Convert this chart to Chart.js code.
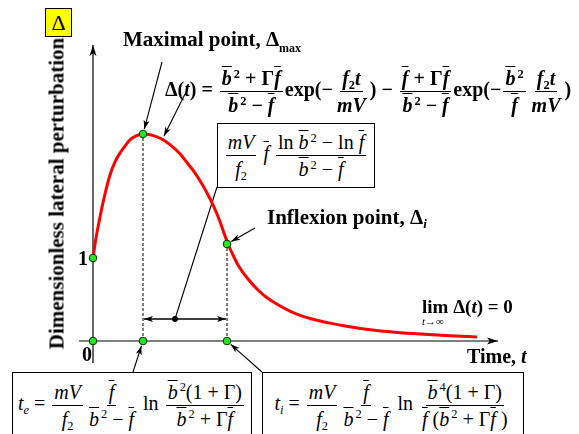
<!DOCTYPE html>
<html><head><meta charset="utf-8">
<script src="https://cdn.jsdelivr.net/npm/chart.js@4.4.1/dist/chart.umd.min.js"></script>
<style>
html,body{margin:0;padding:0;background:#fff;}
#wrap{position:relative;width:579px;height:434px;overflow:hidden;background:#fff;}
#c{position:absolute;left:0;top:0;}
.t{position:absolute;font-family:"Liberation Serif","Times New Roman",Times,serif;white-space:nowrap;line-height:1;color:#000;}
.b{font-weight:bold;}
.frac{display:inline-flex;flex-direction:column;align-items:center;vertical-align:middle;margin:0 2px;}
.frac>span{display:block;padding:1px 2px;line-height:1.2;}
.frac>span:first-child{border-bottom:1.4px solid #000;}
.ob{text-decoration:overline;text-decoration-thickness:1px;}
sup{font-size:0.62em;vertical-align:0.6em;line-height:0;margin-left:2px;}
sub{font-size:0.62em;vertical-align:-0.3em;line-height:0;}
.box{position:absolute;border:1px solid #000;background:#fff;display:flex;align-items:center;justify-content:center;box-sizing:border-box;}
</style></head><body>
<div id="wrap">
<canvas id="c" width="579" height="434"></canvas>

<div class="t" style="left:45px;top:8px;width:27px;height:29px;background:#ffff00;border:1px solid #000;box-sizing:border-box;font-size:22px;text-align:center;line-height:27px;">Δ</div>

<div class="t b" style="left:-113px;top:183px;width:340px;text-align:center;font-size:21px;transform:rotate(-90deg);">Dimensionless lateral perturbation</div>

<div class="t b" style="left:123px;top:29px;font-size:21px;">Maximal point, Δ<sub style="font-size:12px;vertical-align:-0.5em;">max</sub></div>

<div class="t b" style="left:165px;top:65px;font-size:20px;">Δ(<i>t</i>) = <span class="frac"><span><i class="ob">b</i><sup>2</sup> + Γ<i class="ob">f</i></span><span><i class="ob">b</i><sup>2</sup> − <i class="ob">f</i></span></span>exp(−<span class="frac"><span><i>f</i><sub>2</sub><i>t</i></span><span><i>mV</i></span></span>) − <span class="frac"><span><i class="ob">f</i> + Γ<i class="ob">f</i></span><span><i class="ob">b</i><sup>2</sup> − <i class="ob">f</i></span></span>exp(−<span class="frac"><span><i class="ob">b</i><sup>2</sup></span><span><i class="ob">f</i></span></span><span class="frac"><span><i>f</i><sub>2</sub><i>t</i></span><span><i>mV</i></span></span>)</div>

<div class="box" style="left:217px;top:123px;width:158px;height:65px;">
<div class="t" style="position:static;font-size:20px;"><span class="frac"><span><i>mV</i></span><span><i>f</i><sub>2</sub></span></span> <i class="ob">f</i> <span class="frac"><span>ln <i class="ob">b</i><sup>2</sup> − ln <i class="ob">f</i></span><span><i class="ob">b</i><sup>2</sup> − <i class="ob">f</i></span></span></div>
</div>

<div class="t b" style="left:267px;top:207px;font-size:21px;">Inflexion point, Δ<sub style="font-size:13px;"><i>i</i></sub></div>

<div class="t b" style="left:422px;top:297px;font-size:19px;">lim Δ(<i>t</i>) = 0</div>
<div class="t" style="left:422px;top:316px;font-size:11px;"><i>t</i>→∞</div>

<div class="t b" style="left:467px;top:346px;font-size:20px;">Time, <i>t</i></div>

<div class="box" style="left:12px;top:372px;width:240px;height:66px;">
<div class="t" style="position:static;font-size:20px;"><i>t<sub>e</sub></i> = <span class="frac"><span><i>mV</i></span><span><i>f</i><sub>2</sub></span></span><span class="frac"><span><i class="ob">f</i></span><span><i class="ob">b</i><sup>2</sup> − <i class="ob">f</i></span></span> ln <span class="frac"><span><i class="ob">b</i><sup>2</sup>(1 + Γ)</span><span><i class="ob">b</i><sup>2</sup> + Γ<i class="ob">f</i></span></span></div>
</div>

<div class="box" style="left:262px;top:372px;width:262px;height:66px;">
<div class="t" style="position:static;font-size:20px;"><i>t<sub>i</sub></i> = <span class="frac"><span><i>mV</i></span><span><i>f</i><sub>2</sub></span></span><span class="frac"><span><i class="ob">f</i></span><span><i class="ob">b</i><sup>2</sup> − <i class="ob">f</i></span></span> ln <span class="frac"><span><i class="ob">b</i><sup>4</sup>(1 + Γ)</span><span><i class="ob">f</i> (<i class="ob">b</i><sup>2</sup> + Γ<i class="ob">f</i> )</span></span></div>
</div>
</div>

<script>
// ---- data ----
const curveTime  = [0, 0.06, 0.14, 0.24, 0.34, 0.44, 0.54, 0.64, 0.74, 0.86, 1.00, 1.14, 1.28, 1.40, 1.54, 1.74, 1.88, 2.00, 2.14, 2.28, 2.40, 2.52, 2.62, 2.70, 2.80, 2.90, 3.10, 3.30, 3.46, 3.64, 3.98, 4.38, 4.74, 5.04, 5.54, 6.04, 6.54, 7.14, 7.68];
const curveDelta = [1.000, 1.241, 1.494, 1.771, 2.000, 2.157, 2.265, 2.349, 2.422, 2.470, 2.494, 2.485, 2.460, 2.425, 2.365, 2.255, 2.150, 2.058, 1.930, 1.783, 1.639, 1.470, 1.301, 1.169, 1.036, 0.916, 0.747, 0.614, 0.530, 0.458, 0.349, 0.265, 0.215, 0.180, 0.135, 0.105, 0.083, 0.063, 0.048];
const tE = 1.00, deltaMax = 2.494;
const tI = 2.68, deltaI = 1.169;
const markerTime  = [0, 0, tE, tI, tE, tI];
const markerDelta = [1, 0, 0, 0, deltaMax, deltaI];
const spanTime = [tE, tI];
const spanLevel = 0.265;
const pointerTime = 1.64;
const axisTime  = [-0.28, 8.10];
const axisDelta = [-0.265, 3.566];
const tickValues = [0, 1];
const tickLabels = ['0', '1'];

const SERIF = '"Liberation Serif","Times New Roman",Times,serif';

function arrowHead(ctx, x1, y1, x2, y2, len, half) {
  const a = Math.atan2(y2 - y1, x2 - x1);
  ctx.beginPath();
  ctx.moveTo(x2, y2);
  ctx.lineTo(x2 - len * Math.cos(a) + half * Math.sin(a), y2 - len * Math.sin(a) - half * Math.cos(a));
  ctx.lineTo(x2 - (len*0.75) * Math.cos(a), y2 - (len*0.75) * Math.sin(a));
  ctx.lineTo(x2 - len * Math.cos(a) - half * Math.sin(a), y2 - len * Math.sin(a) + half * Math.cos(a));
  ctx.closePath();
  ctx.fill();
}
function arrow(ctx, x1, y1, x2, y2, opts) {
  opts = opts || {};
  ctx.beginPath(); ctx.moveTo(x1, y1); ctx.lineTo(x2, y2); ctx.stroke();
  if (opts.end !== false) arrowHead(ctx, x1, y1, x2, y2, opts.len || 9, opts.half || 3);
  if (opts.start) arrowHead(ctx, x2, y2, x1, y1, opts.len || 9, opts.half || 3);
}
function towards(px, py, tx, ty, gap) {
  const d = Math.hypot(tx - px, ty - py);
  return [px + (tx - px) / d * gap, py + (ty - py) / d * gap];
}

const decor = {
  id: 'decor',
  beforeDatasetsDraw(chart) {
    const ctx = chart.ctx, xs = chart.scales.x, ys = chart.scales.y;
    const X = v => xs.getPixelForValue(v), Y = v => ys.getPixelForValue(v);
    ctx.save();
    ctx.strokeStyle = '#000'; ctx.fillStyle = '#000'; ctx.lineWidth = 1.2;
    // axes
    arrow(ctx, X(axisTime[0]), Y(0), X(axisTime[1]), Y(0), {len: 11, half: 3.5});
    arrow(ctx, X(0), Y(axisDelta[0]), X(0), Y(axisDelta[1]), {len: 11, half: 3.5});
    // tick labels
    ctx.font = 'bold 20px ' + SERIF;
    ctx.textAlign = 'right'; ctx.textBaseline = 'alphabetic';
    ctx.fillText(tickLabels[1], X(0) - 5, Y(tickValues[1]) + 7);
    ctx.textAlign = 'center';
    ctx.fillText(tickLabels[0], X(0) - 6, Y(tickValues[0]) + 20);
    ctx.lineWidth = 1.1;
    // annotation arrows
    let h;
    h = towards(X(tE), Y(deltaMax), 162, 62, 5);
    arrow(ctx, 162, 62, h[0], h[1]);
    arrow(ctx, 185, 94, 164, 136);
    h = towards(X(tI), Y(deltaI), 255, 228, 5);
    arrow(ctx, 255, 228, h[0], h[1]);
    h = towards(X(tE), Y(0), 133, 372, 5);
    arrow(ctx, 133, 372, h[0], h[1]);
    h = towards(X(tI), Y(0), 262, 372, 5);
    arrow(ctx, 262, 372, h[0], h[1]);
    // box pointer line
    ctx.beginPath(); ctx.moveTo(217, 187); ctx.lineTo(X(pointerTime), Y(spanLevel)); ctx.stroke();
    // double arrow between tE and tI
    ctx.lineWidth = 1.4;
    arrow(ctx, X(spanTime[0]) + 1, Y(spanLevel), X(spanTime[1]) - 1, Y(spanLevel), {start: true, len: 9, half: 3});
    ctx.restore();
  }
};

new Chart(document.getElementById('c'), {
  type: 'scatter',
  data: {
    datasets: [
      { data: markerTime.map((t, i) => ({x: t, y: markerDelta[i]})), pointRadius: 3.8, pointBackgroundColor: '#22e822', pointBorderColor: '#063006', pointBorderWidth: 1, showLine: false, order: 0 },
      { data: [{x: pointerTime, y: spanLevel}], pointRadius: 2.6, pointBackgroundColor: '#000', pointBorderColor: '#000', showLine: false, order: 0 },
      { data: curveTime.map((t, i) => ({x: t, y: curveDelta[i]})), showLine: true, borderColor: '#ff0000', borderWidth: 3, pointRadius: 0, cubicInterpolationMode: 'monotone', order: 1 },
      { data: [{x: tE, y: 0}, {x: tE, y: deltaMax}], showLine: true, borderColor: '#000', borderWidth: 1, borderDash: [3, 2], pointRadius: 0, order: 2 },
      { data: [{x: tI, y: 0}, {x: tI, y: deltaI}], showLine: true, borderColor: '#000', borderWidth: 1, borderDash: [3, 2], pointRadius: 0, order: 2 }
    ]
  },
  options: {
    responsive: false, animation: false, devicePixelRatio: 1,
    layout: { padding: { left: 79, right: 81, top: 45, bottom: 71 } },
    plugins: { legend: { display: false }, tooltip: { enabled: false } },
    scales: {
      x: { type: 'linear', min: axisTime[0], max: axisTime[1], display: false },
      y: { type: 'linear', min: axisDelta[0], max: axisDelta[1], display: false }
    }
  },
  plugins: [decor]
});
</script>
</body></html>
